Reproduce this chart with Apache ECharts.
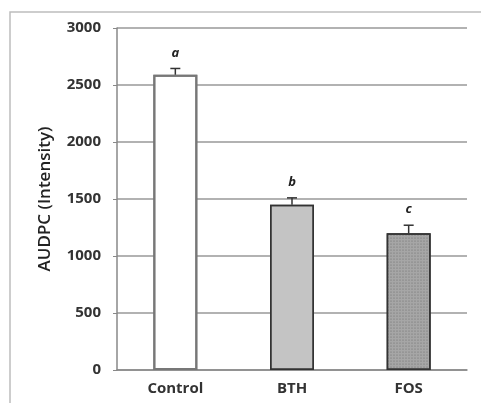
<!DOCTYPE html>
<html>
<head>
<meta charset="utf-8">
<script src="https://cdn.jsdelivr.net/npm/echarts@6/dist/echarts.min.js"></script>
<style>
  html, body { margin: 0; padding: 0; background: #fff; }
  #chart { width: 481px; height: 403px; }
</style>
</head>
<body>
<div id="chart"></div>
<script>
const categories = ['Control', 'BTH', 'FOS'];
const values = [2590, 1450, 1200];
const errors = [55, 60, 70];
const letters = ['a', 'b', 'c'];
const yTicks = [0, 500, 1000, 1500, 2000, 2500, 3000];

const chart = echarts.init(document.getElementById('chart'), null, { renderer: 'canvas' });

const noDecal = { symbol: 'none' };
const barStyles = [
    { color: '#ffffff', borderColor: '#777777', borderWidth: 2, decal: noDecal },
    { color: '#c4c4c4', borderColor: '#333333', borderWidth: 1.5, decal: noDecal },
    {
        color: '#a6a6a6', borderColor: '#333333', borderWidth: 1.5,
        decal: { symbol: 'circle', symbolSize: 0.6, dashArrayX: [2, 1], dashArrayY: [2, 1], rotation: 0, color: 'rgba(60,60,60,0.55)' }
    }
];

chart.setOption({
    aria: { enabled: true, decal: { show: true } },
    animation: false,
    graphic: [{
        type: 'rect',
        shape: { x: 10, y: 12, width: 480, height: 400 },
        style: { fill: 'none', stroke: '#bdbdbd', lineWidth: 1.5 }
    }],
    grid: { left: 117, right: 14, top: 28, bottom: 33 },
    xAxis: {
        type: 'category',
        data: categories,
        axisLine: { lineStyle: { color: '#888', width: 1.5 } },
        axisTick: { show: false },
        axisLabel: { color: '#333', fontSize: 15, fontWeight: 'bold', fontFamily: 'Open Sans', margin: 11 }
    },
    yAxis: {
        type: 'value',
        min: yTicks[0],
        max: yTicks[yTicks.length - 1],
        interval: 500,
        name: 'AUDPC (Intensity)',
        nameLocation: 'middle',
        nameGap: 63,
        nameTextStyle: { color: '#222', fontSize: 17, fontWeight: 600, fontFamily: 'Open Sans' },
        axisLine: { show: true, lineStyle: { color: '#888', width: 1.5 } },
        axisTick: { show: true, length: 4, lineStyle: { color: '#888' } },
        axisLabel: {
            color: '#333', fontSize: 15, fontWeight: 'bold', fontFamily: 'Open Sans', margin: 16,
            formatter: v => String(v)
        },
        splitLine: { lineStyle: { color: '#999', width: 1.5 } }
    },
    series: [{
        type: 'bar',
        barWidth: 44,
        data: values.map((v, i) => ({ value: v, itemStyle: barStyles[i] })),
        z: 3
    }, {
        type: 'custom',
        z: 4,
        data: values.map((v, i) => [i, v, errors[i]]),
        renderItem: (params, api) => {
            const i = api.value(0);
            const base = api.coord([i, api.value(1)]);
            const top = api.coord([i, api.value(1) + api.value(2)]);
            const x = base[0];
            return {
                type: 'group',
                children: [{
                    type: 'line',
                    shape: { x1: x, y1: base[1], x2: x, y2: top[1] },
                    style: { stroke: '#333', lineWidth: 1.5 }
                }, {
                    type: 'line',
                    shape: { x1: x - 5, y1: top[1], x2: x + 5, y2: top[1] },
                    style: { stroke: '#333', lineWidth: 1.5 }
                }, {
                    type: 'text',
                    style: {
                        x: x, y: top[1] - 9,
                        text: letters[i],
                        fill: '#222',
                        font: 'italic bold 13px "Open Sans"',
                        align: 'center', verticalAlign: 'bottom'
                    }
                }]
            };
        }
    }]
});
</script>
</body>
</html>
